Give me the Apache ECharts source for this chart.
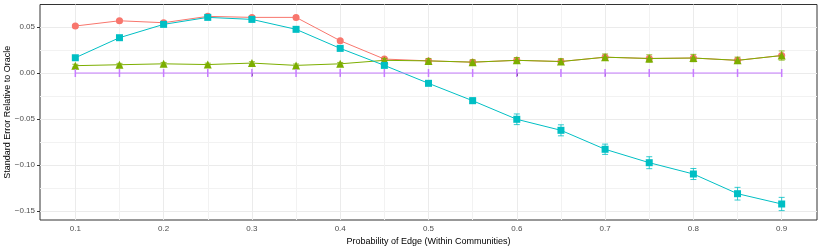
<!DOCTYPE html>
<html>
<head>
<meta charset="utf-8">
<script src="https://cdn.jsdelivr.net/npm/echarts@6/dist/echarts.min.js"></script>
<style>html,body{margin:0;padding:0;background:#fff}#c{width:822px;height:249px}</style>
</head>
<body>
<div id="c"></div>
<script>
var xValues = [0.1,0.15,0.2,0.25,0.3,0.35,0.4,0.45,0.5,0.55,0.6,0.65,0.7,0.75,0.8,0.85,0.9];
var redVals   = [0.0511,0.0568,0.0547,0.0616,0.0605,0.0605,0.0351,0.0152,0.0132,0.0118,0.0138,0.0125,0.0172,0.0158,0.0163,0.0138,0.0190];
var redErr    = [0.0015,0.0015,0.0015,0.0015,0.0015,0.0015,0.0015,0.0012,0.0010,0.0010,0.0010,0.0010,0.0010,0.0010,0.0010,0.0010,0.0010];
var greenVals = [0.0080,0.0090,0.0100,0.0092,0.0108,0.0083,0.0100,0.0138,0.0132,0.0118,0.0138,0.0125,0.0172,0.0158,0.0163,0.0138,0.0190];
var greenErr  = [0.0015,0.0015,0.0015,0.0015,0.0015,0.0015,0.0015,0.0020,0.0025,0.0025,0.0030,0.0030,0.0035,0.0040,0.0040,0.0035,0.0050];
var cyanVals  = [0.0166,0.0384,0.0529,0.0605,0.0583,0.0475,0.0268,0.0083,-0.0112,-0.0301,-0.0503,-0.0623,-0.0829,-0.0975,-0.1098,-0.1312,-0.1424];
var cyanErr   = [0.0015,0.0015,0.0015,0.0015,0.0015,0.0015,0.0015,0.0015,0.0020,0.0030,0.0058,0.0060,0.0056,0.0065,0.0060,0.0069,0.0072];
var purpleVals= [0,0,0,0,0,0,0,0,0,0,0,0,0,0,0,0,0];
var xTicks = [0.1,0.2,0.3,0.4,0.5,0.6,0.7,0.8,0.9];
var xMinor = [0.15,0.25,0.35,0.45,0.55,0.65,0.75,0.85];
var yTicks = [-0.15,-0.10,-0.05,0.00,0.05];
var yMinor = [-0.125,-0.075,-0.025,0.025];
var xTitle = 'Probability of Edge (Within Communities)';
var yTitle = 'Standard Error Relative to Oracle';

var RED='#F8766D', GREEN='#7CAE00', CYAN='#00BFC4', PURPLE='#C77CFF';
function pairs(v){ return xValues.map(function(x,i){ return [x, v[i]]; }); }
function errData(v,e){ return xValues.map(function(x,i){ return [x, v[i]-e[i], v[i]+e[i]]; }); }
function errSeries(v,e,color,z){
  return {
    type:'custom', z:z, silent:true,
    data: errData(v,e),
    encode:{x:0,y:[1,2]},
    renderItem:function(params,api){
      var lo=api.coord([api.value(0),api.value(1)]);
      var hi=api.coord([api.value(0),api.value(2)]);
      var w=3;
      var st={stroke:color,lineWidth:1,opacity:0.8};
      return {type:'group',children:[
        {type:'line',shape:{x1:lo[0],y1:lo[1],x2:hi[0],y2:hi[1]},style:st},
        {type:'line',shape:{x1:lo[0]-w,y1:lo[1],x2:lo[0]+w,y2:lo[1]},style:st},
        {type:'line',shape:{x1:hi[0]-w,y1:hi[1],x2:hi[0]+w,y2:hi[1]},style:st}
      ]};
    }
  };
}
function fmt(v){ var s=(Math.abs(v)<1e-9)?'0.00':v.toFixed(2); return s.replace('-','\u2212'); }
function fmtX(v){ return String(Math.round(v*10)/10); }

var xMin=0.06, xMax=0.94, yMin=-0.1598, yMax=0.0745;
var labelStyle={color:'#4D4D4D',fontSize:8,fontFamily:'Liberation Sans'};
var chart=echarts.init(document.getElementById('c'),null,{renderer:'canvas'});
chart.setOption({
  animation:false,
  grid:{left:40,right:5,top:4.5,bottom:29,outerBoundsMode:'none',containLabel:false,show:true,borderColor:'#333333',borderWidth:1,backgroundColor:'transparent'},
  xAxis:[{
    type:'value',min:xMin,max:xMax,
    axisLine:{show:false},
    axisTick:{show:true,length:3,lineStyle:{color:'#333333'},customValues:xTicks},
    axisLabel:Object.assign({customValues:xTicks,formatter:fmtX,margin:5},labelStyle),
    splitLine:{show:true,lineStyle:{color:'#EBEBEB',width:1}},
    name:xTitle,nameLocation:'middle',nameGap:17,nameMoveOverlap:false,
    nameTextStyle:{color:'#000',fontSize:9,fontFamily:'Liberation Sans'}
  },{
    type:'value',min:xMin,max:xMax,show:true,
    axisLine:{show:false},
    axisTick:{show:false,customValues:xMinor},
    axisLabel:{show:false,customValues:xMinor},
    splitLine:{show:true,lineStyle:{color:'#F2F2F2',width:1}}
  }],
  yAxis:[{
    type:'value',min:yMin,max:yMax,
    axisLine:{show:false},
    axisTick:{show:true,length:3,lineStyle:{color:'#333333'},customValues:yTicks},
    axisLabel:Object.assign({customValues:yTicks,formatter:fmt,margin:5},labelStyle),
    splitLine:{show:true,lineStyle:{color:'#EBEBEB',width:1}},
    name:yTitle,nameLocation:'middle',nameGap:28,nameMoveOverlap:false,
    nameTextStyle:{color:'#000',fontSize:9,fontFamily:'Liberation Sans'}
  },{
    type:'value',min:yMin,max:yMax,show:true,
    axisLine:{show:false},
    axisTick:{show:false,customValues:yMinor},
    axisLabel:{show:false,customValues:yMinor},
    splitLine:{show:true,lineStyle:{color:'#F2F2F2',width:1}}
  }],
  series:[
    {type:'line',data:pairs(redVals),z:3,symbol:'circle',symbolSize:7,lineStyle:{color:RED,width:1},itemStyle:{color:RED},emphasis:{disabled:true}},
    errSeries(redVals,redErr,RED,3),
    {type:'line',data:pairs(greenVals),z:4,symbol:'triangle',symbolSize:8,lineStyle:{color:GREEN,width:1},itemStyle:{color:GREEN},emphasis:{disabled:true}},
    errSeries(greenVals,greenErr,GREEN,4),
    {type:'line',data:pairs(cyanVals),z:5,symbol:'rect',symbolSize:7,lineStyle:{color:CYAN,width:1},itemStyle:{color:CYAN},emphasis:{disabled:true}},
    errSeries(cyanVals,cyanErr,CYAN,5),
    {type:'line',data:pairs(purpleVals),z:6,symbol:'rect',symbolSize:[1.5,8],lineStyle:{color:PURPLE,width:1},itemStyle:{color:PURPLE},emphasis:{disabled:true}}
  ]
});
</script>
</body>
</html>
